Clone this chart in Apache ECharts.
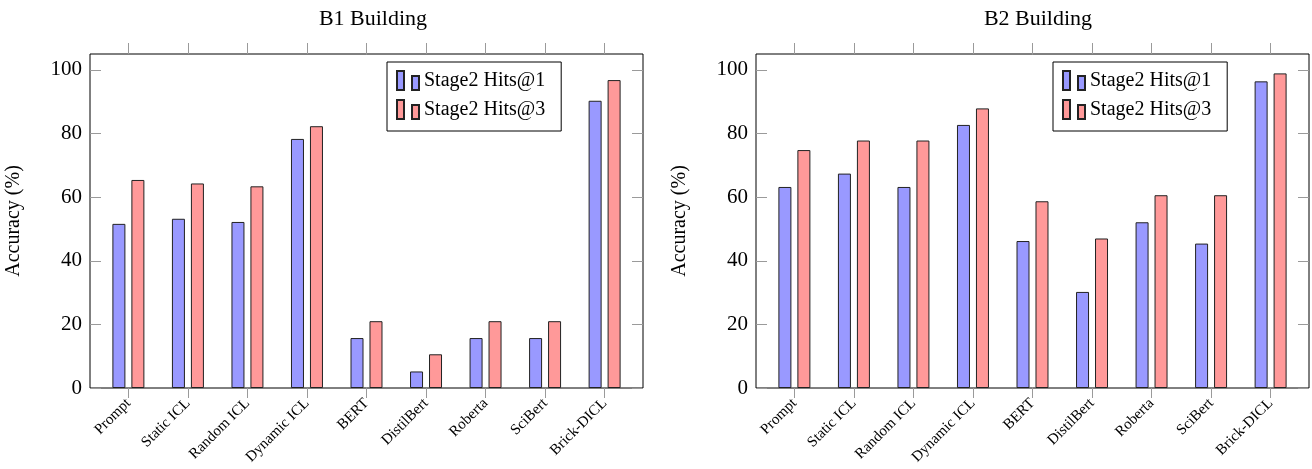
<!DOCTYPE html>
<html>
<head>
<meta charset="utf-8">
<script src="https://cdn.jsdelivr.net/npm/echarts@6/dist/echarts.min.js"></script>
<style>
html,body{margin:0;padding:0;background:#fff;}
#c{width:1312px;height:469px;}
</style>
</head>
<body>
<div id="c"></div>
<script>
// ---- data ----
const categories = ['Prompt', 'Static ICL', 'Random ICL', 'Dynamic ICL', 'BERT', 'DistilBert', 'Roberta', 'SciBert', 'Brick-DICL'];
const titles = ['B1 Building', 'B2 Building'];
const seriesNames = ['Stage2 Hits@1', 'Stage2 Hits@3'];
const b1Hits1 = [51.6, 53.2, 52.2, 78.3, 15.7, 5.2, 15.7, 15.7, 90.3];
const b1Hits3 = [65.4, 64.3, 63.4, 82.3, 21.0, 10.6, 21.0, 21.0, 96.8];
const b2Hits1 = [63.2, 67.4, 63.2, 82.7, 46.2, 30.2, 52.1, 45.4, 96.4];
const b2Hits3 = [74.8, 77.8, 77.8, 87.9, 58.7, 47.0, 60.6, 60.6, 98.9];
const yTicks = [0, 20, 40, 60, 80, 100];
const yName = 'Accuracy (%)';

const FONT = 'Liberation Serif';
const TICK = '#9a9a9a';
const colors = ['#9999ff', '#ff9999'];
const catIdx = categories.map((c, i) => i);

const panels = [
  {left: 90, legendLeft: 387, titleX: 368, data: [b1Hits1, b1Hits3]},
  {left: 756, legendLeft: 1053, titleX: 1033, data: [b2Hits1, b2Hits3]}
];
const W = 553, TOP = 54, H = 334;

const option = {
  animation: false,
  backgroundColor: '#fff',
  title: [], grid: [], xAxis: [], yAxis: [], legend: [], series: []
};

const legendIcon = 'path://M0,0h7v19h-7z M15,5h7v14h-7z';

panels.forEach((p, k) => {
  option.title.push({
    text: titles[k], left: p.titleX, top: 3, textAlign: 'center',
    textStyle: {fontFamily: FONT, fontSize: 22, fontWeight: 'normal', color: '#000'}
  });
  option.grid.push({
    left: p.left, top: TOP, width: W, height: H,
    show: true, borderColor: '#000', borderWidth: 1, backgroundColor: '#fff'
  });
  const xBase = {
    type: 'value', gridIndex: k, min: -0.645, max: 8.645,
    axisLine: {show: false, onZero: false}, splitLine: {show: false}
  };
  option.xAxis.push(Object.assign({}, xBase, {
    position: 'bottom',
    axisTick: {show: true, inside: false, length: 10, customValues: catIdx, lineStyle: {color: TICK}},
    axisLabel: {
      show: true, customValues: catIdx, rotate: 45, margin: 13,
      formatter: v => categories[Math.round(v)] || '',
      fontFamily: FONT, fontSize: 15, color: '#000'
    }
  }));
  option.xAxis.push(Object.assign({}, xBase, {
    position: 'top',
    axisTick: {show: true, inside: false, length: 11, customValues: catIdx, lineStyle: {color: TICK}},
    axisLabel: {show: false}
  }));
  const yBase = {
    type: 'value', gridIndex: k, min: 0, max: 105,
    axisLine: {show: false, onZero: false}, splitLine: {show: false}
  };
  option.yAxis.push(Object.assign({}, yBase, {
    position: 'left',
    name: yName, nameLocation: 'middle', nameGap: 66,
    nameTextStyle: {fontFamily: FONT, fontSize: 20, color: '#000'},
    axisTick: {show: true, inside: true, length: 11, customValues: yTicks, lineStyle: {color: TICK}},
    axisLabel: {show: true, customValues: yTicks, margin: 8, fontFamily: FONT, fontSize: 21, color: '#000'}
  }));
  option.yAxis.push(Object.assign({}, yBase, {
    position: 'right',
    axisTick: {show: true, inside: true, length: 11, customValues: yTicks, lineStyle: {color: TICK}},
    axisLabel: {show: false}
  }));
  option.legend.push({
    left: p.legendLeft, top: 62, orient: 'vertical',
    selectedMode: false,
    data: seriesNames.map(n => ({name: n, icon: legendIcon})),
    itemWidth: 22, itemHeight: 19, itemGap: 8,
    padding: [8, 16, 11, 9],
    borderColor: '#000', borderWidth: 1, backgroundColor: '#fff',
    textStyle: {fontFamily: FONT, fontSize: 20, color: '#000', lineHeight: 20}
  });
  p.data.forEach((vals, s) => {
    option.series.push({
      type: 'bar', name: seriesNames[s],
      xAxisIndex: k * 2, yAxisIndex: k * 2,
      barWidth: 13, barGap: '46%',
      itemStyle: {color: colors[s], borderColor: '#222', borderWidth: 1},
      data: vals.map((v, i) => [catIdx[i], v])
    });
  });
});

const chart = echarts.init(document.getElementById('c'), null, {renderer: 'canvas'});
chart.setOption(option);
</script>
</body>
</html>
